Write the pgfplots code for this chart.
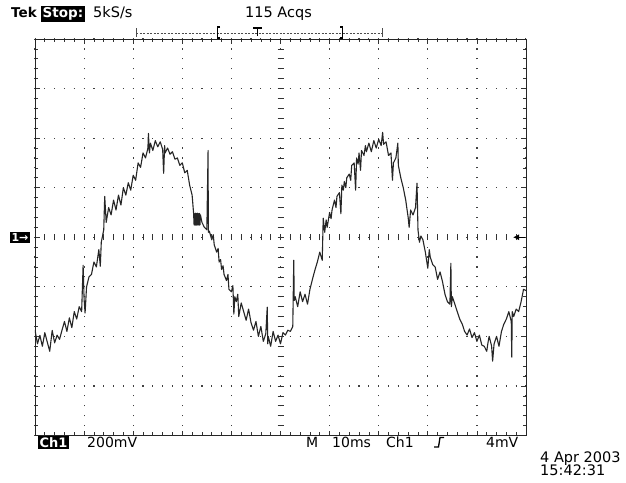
\documentclass[border=0pt]{standalone}
\usepackage{fontspec}
\setmainfont{DejaVu Sans}
\usepackage{pgfplots}
\pgfplotsset{compat=1.18}
\usetikzlibrary{arrows.meta}
\pgfplotstableread{
t v
0 -374
0.5 -430
1 -396
1.5 -440
2 -385
2.5 -423
3 -460
3.5 -376
4 -426
4.5 -395
5 -412
5.5 -375
6 -340
6.5 -380
7 -325
7.5 -365
8 -300
8.5 -330
9 -280
9.5 -300
9.8 -113
10 -250
10.2 -306
10.5 -200
11 -160
11.5 -150
12 -100
12.5 -120
13 -50
13.3 -117
13.5 -20
14 30
14.2 165
14.5 60
15 120
15.5 90
16 150
16.5 110
17 170
17.5 130
18 200
18.5 170
19 220
19.5 190
20 250
20.5 230
21 300
21.5 282
22 340
22.5 320
23 360
23.1 419
23.3 340
23.5 380
24 350
24.5 390
25 365
25.5 385
26 355
26.2 258
26.4 370
26.5 340
27 360
27.5 335
28 345
28.5 315
29 320
29.5 290
30 300
30.5 260
31 270
31.5 210
32 170
32.3 97
32.4 50
32.5 95
32.6 48
32.7 97
32.8 50
32.9 96
33.0 48
33.1 97
33.2 52
33.3 95
33.4 48
33.5 96
33.6 50
33.7 90
34 60
34.5 40
35 30
35.25 350
35.3 20
35.5 25
36 -10
36.3 10
36.5 -30
37 -60
37.3 -45
37.5 -100
37.8 -90
38 -130
38.3 -115
38.5 -150
39 -175
39.3 -150
39.5 -210
40 -220
40.3 -195
40.5 -310
40.7 -240
41 -260
41.3 -230
41.5 -320
42 -265
42.5 -300
43 -335
43.5 -290
44 -345
44.5 -375
45 -340
45.5 -400
46 -360
46.5 -420
47 -390
47.3 -282
47.4 -430
47.5 -400
48 -440
48.5 -380
49 -420
49.5 -395
50 -430
50.5 -385
51 -395
51.5 -375
52 -380
52.5 -360
52.7 -93
52.8 -255
53 -240
53.5 -280
54 -220
54.5 -260
55 -230
55.5 -270
56 -210
56.5 -170
57 -133
57.5 -100
58 -60
58.5 -93
58.7 77
59 20
59.3 70
59.5 40
60 100
60.3 75
60.5 110
61 150
61.3 120
61.5 165
62 180
62.3 95
62.5 210
62.8 190
63 225
63.3 200
63.5 240
64 255
64.3 230
64.5 290
65 300
65.3 190
65.5 320
65.8 295
66 340
66.3 270
66.5 350
67 330
67.3 370
67.5 345
68 380
68.5 345
69 390
69.5 360
70 395
70.5 370
70.8 423
71 375
71.5 385
72 330
72.5 340
72.8 230
73 300
73.5 320
73.9 380
74 290
74.5 240
75 200
75.5 150
76 80
76.2 40
76.5 110
77 90
77.5 120
77.8 218
78 30
78.3 -20
78.6 5
79 -10
79.5 -60
80 -125
80.3 -50
80.5 -80
81 -110
81.5 -120
82 -170
82.5 -140
83 -180
83.5 -230
84 -260
84.5 -270
84.7 -105
84.8 -280
85 -240
85.5 -270
86 -300
86.5 -330
87 -350
87.5 -380
88 -395
88.5 -370
89 -405
89.5 -385
90 -420
90.5 -395
91 -435
91.5 -440
92 -460
92.3 -420
92.5 -400
93 -440
93.2 -500
93.5 -430
94 -400
94.5 -440
95 -380
95.5 -350
96 -330
96.5 -300
97 -340
97.1 -484
97.2 -300
97.5 -320
98 -290
98.5 -300
99 -260
99.5 -210
100 -215
}\trace
\begin{document}
\begin{tikzpicture}[x=1pt,y=1pt]
\path[fill=white] (0,0) rectangle (626,482);
\begin{axis}[
  at={(35pt,46.5pt)}, anchor=south west,
  width=491pt, height=396.5pt, scale only axis,
  xmin=0, xmax=100, ymin=-800, ymax=800,
  xtick={0,10,...,100}, ytick={-800,-600,...,800},
  minor x tick num=4, minor y tick num=4,
  xticklabels={}, yticklabels={},
  tick align=inside, major tick length=5pt, minor tick length=3.5pt,
  tick style={black!80, line width=0.7pt},
  grid=major,
  major x grid style={black!75, line width=1.2pt, dash pattern=on 1.2pt off 8.7125pt, dash phase=0.6pt},
  major y grid style={black!75, line width=1.2pt, dash pattern=on 1.2pt off 8.62pt, dash phase=0.6pt},
  axis line style={black!85, line width=0.9pt},
]
\addplot[black!85, line width=1.1pt, line join=round, mark=none] table[x=t, y=v] {\trace};
\end{axis}
% centre cross ticks
\foreach \i in {1,...,49} \draw[black!80, line width=0.7pt] ({35+\i*9.82},241.75) -- ++(0,6);
\foreach \i in {1,...,39} \draw[black!80, line width=0.7pt] (277.5,{46.5+\i*9.9125}) -- ++(6,0);
% channel marker and trigger level
\node[fill=black, text=white, inner sep=1.5pt, font=\bfseries\fontsize{11}{11}\selectfont, anchor=center] at (20,244.5) {1→};
\draw[black, line width=1pt, -{Latex[length=6pt,width=6pt]}] (525,244.75) -- (513,244.75);
% top status line
\node[anchor=base west, inner sep=0pt, font=\bfseries\fontsize{13.5}{13.5}\selectfont] at (11,464) {Tek};
\node[anchor=base west, fill=black, text=white, inner sep=1.5pt, font=\bfseries\fontsize{13.5}{13.5}\selectfont] at (41,464) {Stop:};
\node[anchor=base west, inner sep=0pt, font=\fontsize{14.5}{14.5}\selectfont] at (93,464) {5kS/s};
\node[anchor=base west, inner sep=0pt, font=\fontsize{14.5}{14.5}\selectfont] at (245,464) {115 Acqs};
% record window bar
\draw[black!70, line width=0.8pt, dash pattern=on 2pt off 1.5pt] (136,449) -- (382,449);
\draw[black!70, line width=0.8pt] (136,445) -- (136,454) (382,445) -- (382,454);
\draw[black, line width=1.4pt] (220,455) -- (217.5,455) -- (217.5,444) -- (220,444);
\draw[black, line width=1.4pt] (340,455) -- (342.5,455) -- (342.5,444) -- (340,444);
\draw[black, line width=1.2pt] (253,454) -- (262,454) (257.5,454) -- (257.5,446);
% bottom status line
\node[anchor=base west, fill=black, text=white, inner sep=1.5pt, font=\bfseries\fontsize{13}{13}\selectfont] at (38,34.5) {Ch1};
\node[anchor=base west, inner sep=0pt, font=\fontsize{14}{14}\selectfont] at (87,34.5) {200mV};
\node[anchor=base west, inner sep=0pt, font=\fontsize{14}{14}\selectfont] at (306,34.5) {M};
\node[anchor=base west, inner sep=0pt, font=\fontsize{14}{14}\selectfont] at (332,34.5) {10ms};
\node[anchor=base west, inner sep=0pt, font=\fontsize{14}{14}\selectfont] at (386,34.5) {Ch1};
\draw[black, line width=1.3pt] (434,35) -- (438.5,35) -- (440,44.5) -- (444,44.5);
\node[anchor=base west, inner sep=0pt, font=\fontsize{14}{14}\selectfont] at (486,34.5) {4mV};
\node[anchor=base west, inner sep=0pt, font=\fontsize{14.5}{14.5}\selectfont] at (540,20) {4 Apr 2003};
\node[anchor=base west, inner sep=0pt, font=\fontsize{14.5}{14.5}\selectfont] at (540,7) {15:42:31};
\end{tikzpicture}
\end{document}
